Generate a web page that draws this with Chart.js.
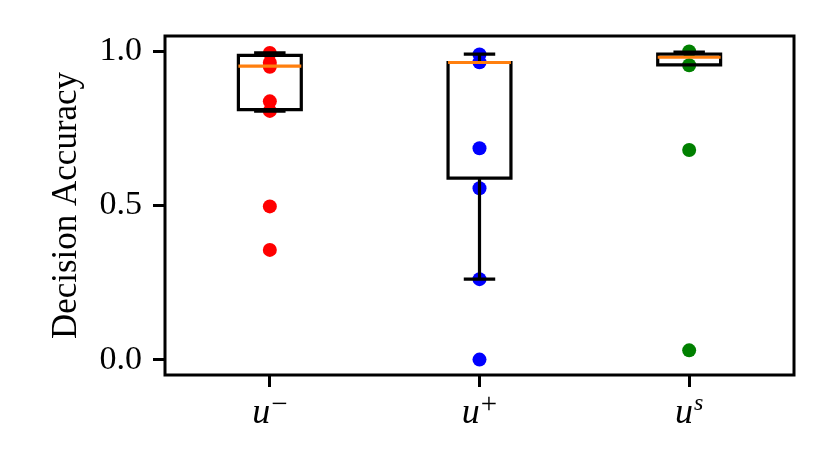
<!DOCTYPE html>
<html>
<head>
<meta charset="utf-8">
<script src="https://cdn.jsdelivr.net/npm/chart.js@4.4.1/dist/chart.umd.min.js"></script>
<style>
  html, body { margin: 0; padding: 0; background: #fff; }
  #wrap { width: 831px; height: 466px; }
</style>
</head>
<body>
<div id="wrap"><canvas id="c" width="831" height="466"></canvas></div>
<script>
// ── DATA ────────────────────────────────────────────────────
const catBase = ['u', 'u', 'u'];
const catSup  = ['−', '+', 's'];
const categories = ['u⁻', 'u⁺', 'uˢ'];
const dotColors  = ['#ff0000', '#0000ff', '#008000'];

// individual accuracies (scatter)
const uMinus = [0.995, 0.963, 0.95, 0.838, 0.807, 0.497, 0.356];
const uPlus  = [0.99, 0.965, 0.686, 0.556, 0.261, 0.0];
const uS     = [1.0, 0.955, 0.68, 0.03];
const series = [uMinus, uPlus, uS];

// box statistics per category (no fliers drawn)
const whiskLo = [0.806, 0.261, 0.956];
const q1      = [0.811, 0.589, 0.956];
const median  = [0.952, 0.964, 0.981];
const q3      = [0.987, 0.964, 0.991];
const whiskHi = [0.995, 0.991, 0.998];

const yTicks = [0.0, 0.5, 1.0];

// ── STYLE ───────────────────────────────────────────────────
const FONT = "'Liberation Serif', 'DejaVu Serif', serif";
const BOX_W = 0.3;
const CAP_W = 0.15;

// ── PLUGINS ─────────────────────────────────────────────────
const boxPlot = {
  id: 'boxPlot',
  afterDatasetsDraw(chart) {
    const { ctx, scales: { x, y } } = chart;
    ctx.save();
    ctx.lineWidth = 3.2;
    ctx.lineCap = 'butt';
    categories.forEach((c, i) => {
      const pos = i + 1;
      const xc = x.getPixelForValue(pos);
      const bl = x.getPixelForValue(pos - BOX_W / 2), br = x.getPixelForValue(pos + BOX_W / 2);
      const cl = x.getPixelForValue(pos - CAP_W / 2), cr = x.getPixelForValue(pos + CAP_W / 2);
      const yq1 = y.getPixelForValue(q1[i]), yq3 = y.getPixelForValue(q3[i]);
      const ylo = y.getPixelForValue(whiskLo[i]), yhi = y.getPixelForValue(whiskHi[i]);
      const ymed = y.getPixelForValue(median[i]);

      ctx.strokeStyle = '#000';
      ctx.beginPath();
      ctx.rect(bl, yq3, br - bl, yq1 - yq3);
      // whiskers
      ctx.moveTo(xc, yq1); ctx.lineTo(xc, ylo);
      ctx.moveTo(xc, yq3); ctx.lineTo(xc, yhi);
      // caps
      ctx.moveTo(cl, ylo); ctx.lineTo(cr, ylo);
      ctx.moveTo(cl, yhi); ctx.lineTo(cr, yhi);
      ctx.stroke();

      ctx.strokeStyle = '#ff7f0e';
      ctx.beginPath();
      ctx.moveTo(bl, ymed); ctx.lineTo(br, ymed);
      ctx.stroke();
    });
    ctx.restore();
  }
};

// frame + x labels with real superscripts
const frame = {
  id: 'frame',
  afterDraw(chart) {
    const { ctx, chartArea: a, scales: { x } } = chart;
    ctx.save();
    ctx.strokeStyle = '#000';
    ctx.lineWidth = 3;
    ctx.strokeRect(a.left, a.top, a.right - a.left, a.bottom - a.top);

    ctx.fillStyle = '#000';
    ctx.textBaseline = 'alphabetic';
    ctx.textAlign = 'left';
    const base = a.bottom + 48;
    catBase.forEach((b, i) => {
      const isLetter = catSup[i] === 's';
      const supFont = isLetter ? `italic 24px ${FONT}` : `29px ${FONT}`;
      const raise = isLetter ? 13 : 10;
      ctx.font = `italic 36px ${FONT}`;
      const wb = ctx.measureText(b).width;
      ctx.font = supFont;
      const ws = ctx.measureText(catSup[i]).width;
      const x0 = x.getPixelForValue(i + 1) - (wb + 1 + ws) / 2;
      ctx.font = `italic 36px ${FONT}`;
      ctx.fillText(b, x0, base);
      ctx.font = supFont;
      ctx.fillText(catSup[i], x0 + wb + 1, base - raise);
    });
    ctx.restore();
  }
};

// ── CHART ───────────────────────────────────────────────────
const datasets = series.map((vals, i) => ({
  data: vals.map(v => ({ x: i + 1, y: v })),
  backgroundColor: dotColors[i],
  borderWidth: 0,
  pointRadius: 7,
  pointHoverRadius: 7
}));

new Chart(document.getElementById('c'), {
  type: 'scatter',
  data: { datasets },
  options: {
    responsive: false,
    animation: false,
    devicePixelRatio: 1,
    layout: { padding: { top: 36, right: 37, left: 0, bottom: 0 } },
    plugins: { legend: { display: false }, tooltip: { enabled: false } },
    scales: {
      x: {
        type: 'linear',
        min: 0.5, max: 3.5,
        afterFit: s => { s.height = 91; },
        afterBuildTicks: s => { s.ticks = categories.map((c, i) => ({ value: i + 1 })); },
        border: { display: false },
        grid: { drawOnChartArea: false, tickLength: 12, tickColor: '#000', tickWidth: 3 },
        ticks: {
          color: 'rgba(0,0,0,0)',   // drawn by the frame plugin with proper superscripts
          padding: 7,
          maxRotation: 0,
          font: { family: FONT, size: 34, style: 'italic' },
          callback: v => categories[Math.round(v) - 1]
        }
      },
      y: {
        min: -0.05, max: 1.05,
        afterFit: s => { s.width = 165; },
        afterBuildTicks: s => { s.ticks = yTicks.map(v => ({ value: v })); },
        border: { display: false },
        grid: { drawOnChartArea: false, tickLength: 12, tickColor: '#000', tickWidth: 3 },
        ticks: {
          color: '#000',
          padding: 11,
          font: { family: FONT, size: 34 },
          callback: v => v.toFixed(1)
        },
        title: {
          display: true,
          text: 'Decision Accuracy',
          color: '#000',
          font: { family: FONT, size: 35 },
          padding: { top: 46, bottom: 0 }
        }
      }
    }
  },
  plugins: [boxPlot, frame]
});
</script>
</body>
</html>
